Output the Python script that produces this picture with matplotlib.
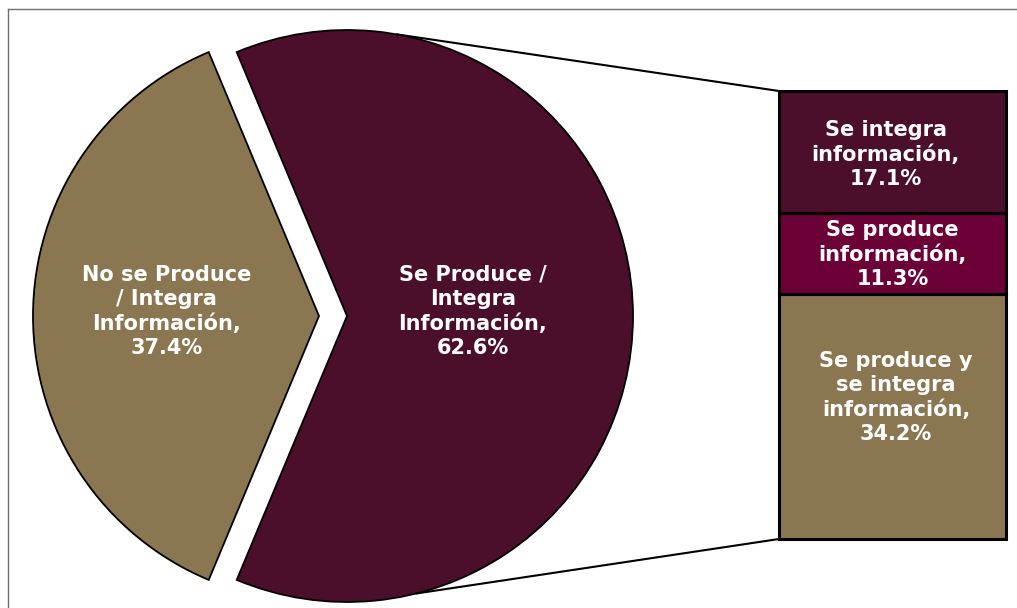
import matplotlib
matplotlib.use("Agg")
import matplotlib.pyplot as plt
from matplotlib.patches import ConnectionPatch
from matplotlib.lines import Line2D
import numpy as np

# datos
pie_labels = ["No se Produce\n/ Integra\nInformación,\n37.4%",
              "Se Produce /\nIntegra\nInformación,\n62.6%"]
pie_values = [37.4, 62.6]

bar_labels = ["Se produce y\nse integra\ninformación,\n34.2%",
              "Se produce\ninformación,\n11.3%",
              "Se integra\ninformación,\n17.1%"]
bar_values = [34.2, 11.3, 17.1]

TAN = "#8a7650"
MAROON = "#4b0f2b"
BRIGHT = "#6c0137"

W, H = 1017, 608
R = 286.0  # pie radius in px
cx, cy = 347, 292  # pie centre in px (from bottom)

fig = plt.figure(figsize=(W / 100, H / 100), dpi=100)
fig.patch.set_facecolor("white")

# frame (top and left)
fig.add_artist(Line2D([8 / W, 8 / W], [0, (H - 9) / H], color="#6e6e6e", lw=1))
fig.add_artist(Line2D([8 / W, 1], [(H - 9) / H, (H - 9) / H], color="#6e6e6e", lw=1))

# pie axes: 600x600 px box, radius 1 -> R px
half = 300
ax1 = fig.add_axes([(cx - half) / W, (cy - half) / H, 2 * half / W, 2 * half / H])
start = 180 - pie_values[0] / 100 * 360 / 2
wedges, _ = ax1.pie(pie_values, colors=[TAN, MAROON], startangle=start,
                    explode=[28 / R, 0], radius=1,
                    wedgeprops=dict(edgecolor="black", linewidth=1.3))
ax1.set_xlim(-half / R, half / R)
ax1.set_ylim(-half / R, half / R)
ax1.axis("off")

txt = dict(color="white", fontsize=15, fontweight="bold", ha="center",
           va="center", linespacing=1.26, family="DejaVu Sans")
ax1.text(-0.63, 0.017, pie_labels[0], **txt)
ax1.text(0.44, 0.017, pie_labels[1], **txt)

# bar axes
bx0, by0, bx1, by1 = 779, H - 539, 1006, H - 91
ax2 = fig.add_axes([bx0 / W, by0 / H, (bx1 - bx0) / W, (by1 - by0) / H])
total = sum(bar_values)
bottom = 0
for val, col in zip(bar_values, [TAN, BRIGHT, MAROON]):
    ax2.bar(0, val, width=1, bottom=bottom, color=col, edgecolor="black",
            linewidth=2.2, clip_on=False)
    bottom += val
ax2.set_xlim(-0.5, 0.5)
ax2.set_ylim(0, total)
ax2.axis("off")

label_x = [0.015, 0.0, -0.03]
label_y = [19.8, 39.7, 53.7]
for lab, xx, yy in zip(bar_labels, label_x, label_y):
    ax2.text(xx, yy, lab, **txt)

# connector lines
for ang, yb in [(80, total), (-76, 0)]:
    t = np.deg2rad(ang)
    con = ConnectionPatch(xyA=(-0.5, yb), coordsA=ax2.transData,
                          xyB=(np.cos(t), np.sin(t)), coordsB=ax1.transData,
                          color="black", linewidth=1.5)
    fig.add_artist(con)

fig.savefig("out.png", dpi=100, facecolor="white")
